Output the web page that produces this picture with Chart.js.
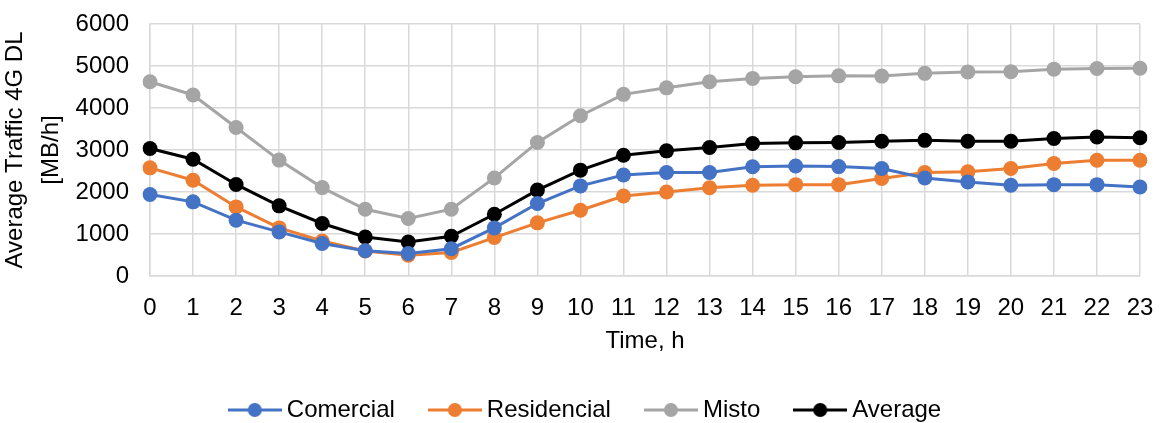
<!DOCTYPE html>
<html>
<head>
<meta charset="utf-8">
<script src="https://cdn.jsdelivr.net/npm/chart.js@4"></script>
<style>
  html, body { margin: 0; padding: 0; background: #fff; }
  #wrap { width: 1161px; height: 423px; }
</style>
</head>
<body>
<div id="wrap"><canvas id="traffic_chart" width="1161" height="423"></canvas></div>
<script>
const hours = ['0','1','2','3','4','5','6','7','8','9','10','11','12','13','14','15','16','17','18','19','20','21','22','23'];
const comercial = [1940, 1765, 1330, 1050, 775, 600, 535, 650, 1145, 1725, 2145, 2405, 2465, 2465, 2600, 2620, 2605, 2560, 2335, 2240, 2160, 2175, 2175, 2120];
const residencial = [2575, 2280, 1645, 1145, 835, 595, 495, 560, 915, 1265, 1565, 1905, 2000, 2100, 2160, 2175, 2175, 2320, 2465, 2480, 2560, 2680, 2755, 2755];
const misto = [4625, 4310, 3535, 2760, 2105, 1590, 1370, 1590, 2335, 3180, 3815, 4325, 4480, 4625, 4705, 4745, 4765, 4760, 4825, 4860, 4865, 4925, 4940, 4945];
const average = [3035, 2780, 2180, 1670, 1250, 930, 810, 945, 1470, 2045, 2520, 2875, 2980, 3060, 3155, 3170, 3180, 3210, 3230, 3210, 3210, 3275, 3310, 3290];
const y_ticks = [0, 1000, 2000, 3000, 4000, 5000, 6000];

const font_family = "'Liberation Sans', Arial, sans-serif";

// legend marker: line with a dot, like the spreadsheet legend
function legend_marker(color) {
    const c = document.createElement('canvas');
    c.width = 54;
    c.height = 16;
    const ctx = c.getContext('2d');
    ctx.strokeStyle = color;
    ctx.lineWidth = 3;
    ctx.beginPath();
    ctx.moveTo(0, 8);
    ctx.lineTo(54, 8);
    ctx.stroke();
    ctx.fillStyle = color;
    ctx.beginPath();
    ctx.arc(27, 8, 7, 0, Math.PI * 2);
    ctx.fill();
    return c;
}

function serie(label, data, color) {
    return {
        label: label,
        data: data,
        borderColor: color,
        backgroundColor: color,
        borderWidth: 3,
        pointRadius: 7.5,
        pointHoverRadius: 7.5,
        pointBorderWidth: 0,
        tension: 0,
        pointStyle: 'circle',
        marker: legend_marker(color)
    };
}

// keep the legend low, near the bottom edge
const legend_place = {
    id: 'legend_place',
    beforeInit(chart) {
        const fit = chart.legend.fit;
        chart.legend.fit = function () {
            fit.bind(chart.legend)();
            this.height = 65;
        };
    },
    afterLayout(chart) {
        chart.legend.left += 18;
        chart.legend.right += 18;
    }
};

// no extra room for overhanging tick labels, layout padding decides
function no_overhang(scale) {
    scale.paddingTop = 0;
    scale.paddingBottom = 0;
    scale.paddingLeft = 0;
    scale.paddingRight = 0;
}

new Chart(document.getElementById('traffic_chart'), {
    type: 'line',
    data: {
        labels: hours,
        datasets: [
            serie('Comercial', comercial, '#4472C4'),
            serie('Residencial', residencial, '#ED7D31'),
            serie('Misto', misto, '#A5A5A5'),
            serie('Average', average, '#000000')
        ]
    },
    plugins: [legend_place],
    options: {
        responsive: false,
        animation: false,
        layout: { padding: { top: 24, right: 21, left: 0, bottom: 0 } },
        plugins: {
            tooltip: { enabled: false },
            legend: {
                position: 'bottom',
                labels: {
                    color: '#000',
                    font: { family: font_family, size: 24 },
                    usePointStyle: true,
                    pointStyleWidth: 40,
                    padding: 40,
                    generateLabels: chart => chart.data.datasets.map((ds, i) => ({
                        text: ds.label,
                        pointStyle: ds.marker,
                        fillStyle: ds.borderColor,
                        strokeStyle: ds.borderColor,
                        lineWidth: 0,
                        hidden: false,
                        datasetIndex: i
                    }))
                }
            }
        },
        scales: {
            x: {
                offset: false,
                afterFit: scale => { scale.height = 82; no_overhang(scale); },
                grid: { color: '#D9D9D9', lineWidth: 1.5, drawTicks: false },
                border: { color: '#D9D9D9', width: 1.5 },
                ticks: {
                    color: '#000',
                    font: { family: font_family, size: 24, lineHeight: 1 },
                    padding: 20,
                    maxRotation: 0,
                    autoSkip: false
                },
                title: {
                    display: true,
                    text: 'Time, h',
                    color: '#000',
                    font: { family: font_family, size: 24 },
                    padding: { top: 0, bottom: 2.5 }
                }
            },
            y: {
                min: 0,
                max: 6000,
                afterFit: scale => { scale.width = 150; no_overhang(scale); },
                afterBuildTicks: axis => { axis.ticks = y_ticks.map(v => ({ value: v })); },
                grid: { color: '#D9D9D9', lineWidth: 1.5, drawTicks: false },
                border: { color: '#D9D9D9', width: 1.5 },
                ticks: {
                    color: '#000',
                    font: { family: font_family, size: 24 },
                    padding: 21,
                    callback: v => String(v)
                },
                title: {
                    display: true,
                    text: ['Average Traffic 4G DL', '[MB/h]'],
                    color: '#000',
                    font: { family: font_family, size: 24, lineHeight: 1.5 },
                    padding: { top: -2.5, bottom: 0 }
                }
            }
        }
    }
});
</script>
</body>
</html>
